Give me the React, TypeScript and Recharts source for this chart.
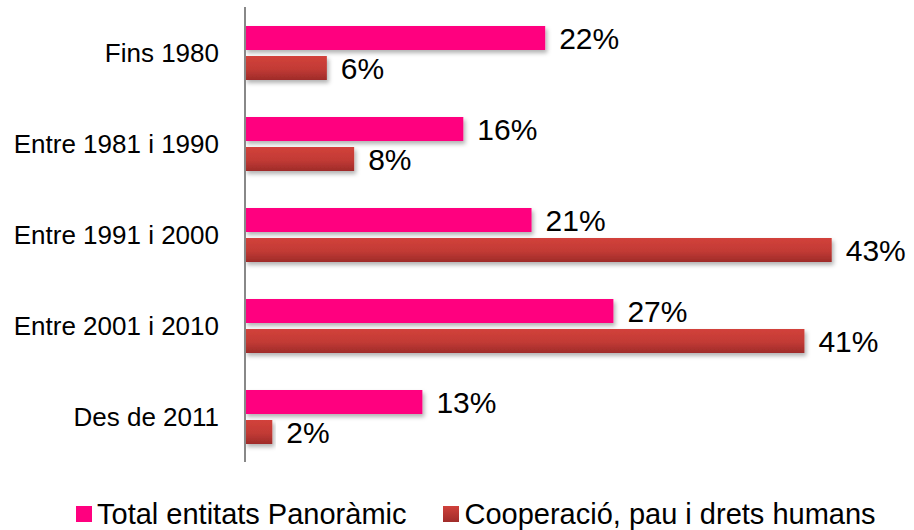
import React from 'react';
import { BarChart, Bar, XAxis, YAxis, LabelList, Legend } from 'recharts';

const categories = ['Fins 1980', 'Entre 1981 i 1990', 'Entre 1991 i 2000', 'Entre 2001 i 2010', 'Des de 2011'];
const totalEntitats = [22, 16, 21, 27, 13];
const cooperacio = [6, 8, 43, 41, 2];
const seriesNames = ['Total entitats Panoràmic', 'Cooperació, pau i drets humans'];

const data = categories.map((c, i) => ({
  name: c,
  total: totalEntitats[i],
  coop: cooperacio[i],
}));

const FONT = '"Liberation Sans", Arial, sans-serif';

const renderLegend = () => (
  <div
    style={{
      display: 'flex',
      alignItems: 'center',
      fontFamily: FONT,
      fontSize: 29,
      lineHeight: '34px',
      height: 34,
      color: '#000',
      paddingLeft: 76,
      whiteSpace: 'nowrap',
    }}
  >
    <span style={{ display: 'inline-block', width: 16, height: 16, background: '#FF007F', marginRight: 5 }} />
    <span style={{ marginRight: 37 }}>{seriesNames[0]}</span>
    <span
      style={{
        display: 'inline-block',
        width: 16,
        height: 16,
        background: 'linear-gradient(#D0413B, #A02C2A)',
        marginRight: 5,
      }}
    />
    <span>{seriesNames[1]}</span>
  </div>
);

export default function App() {
  return (
    <div style={{ position: 'absolute', left: 0, top: 0, width: 914, height: 530, background: '#fff' }}>
      <BarChart
        width={914}
        height={530}
        data={data}
        layout="vertical"
        margin={{ top: 7, right: 55, bottom: 34, left: 0 }}
        barSize={24}
        barGap={6}
      >
        <defs>
          <linearGradient id="redGrad" x1="0" y1="0" x2="0" y2="1">
            <stop offset="0%" stopColor="#D2423B" />
            <stop offset="55%" stopColor="#C23A35" />
            <stop offset="100%" stopColor="#9E2B29" />
          </linearGradient>
          <filter id="shadow" x="-5%" y="-30%" width="115%" height="180%">
            <feDropShadow dx="2" dy="3" stdDeviation="2" floodColor="#000" floodOpacity="0.3" />
          </filter>
        </defs>
        <XAxis type="number" domain={[0, 45]} hide />
        <YAxis
          type="category"
          dataKey="name"
          width={245}
          tickLine={false}
          tickSize={0}
          tickMargin={26}
          axisLine={{ stroke: '#888888', strokeWidth: 2 }}
          tick={{ fill: '#000', fontSize: 26, fontFamily: FONT }}
        />
        <Legend
          verticalAlign="bottom"
          content={renderLegend}
          wrapperStyle={{ left: 0, top: 497, width: 914, height: 34 }}
        />
        <Bar dataKey="total" name={seriesNames[0]} fill="#FF007F" filter="url(#shadow)" isAnimationActive={false}>
          <LabelList
            dataKey="total"
            position="right"
            offset={14}
            formatter={(v: number) => `${v}%`}
            style={{ fill: '#000', fontSize: 30, fontFamily: FONT }}
          />
        </Bar>
        <Bar dataKey="coop" name={seriesNames[1]} fill="url(#redGrad)" filter="url(#shadow)" isAnimationActive={false}>
          <LabelList
            dataKey="coop"
            position="right"
            offset={14}
            formatter={(v: number) => `${v}%`}
            style={{ fill: '#000', fontSize: 30, fontFamily: FONT }}
          />
        </Bar>
      </BarChart>
    </div>
  );
}
